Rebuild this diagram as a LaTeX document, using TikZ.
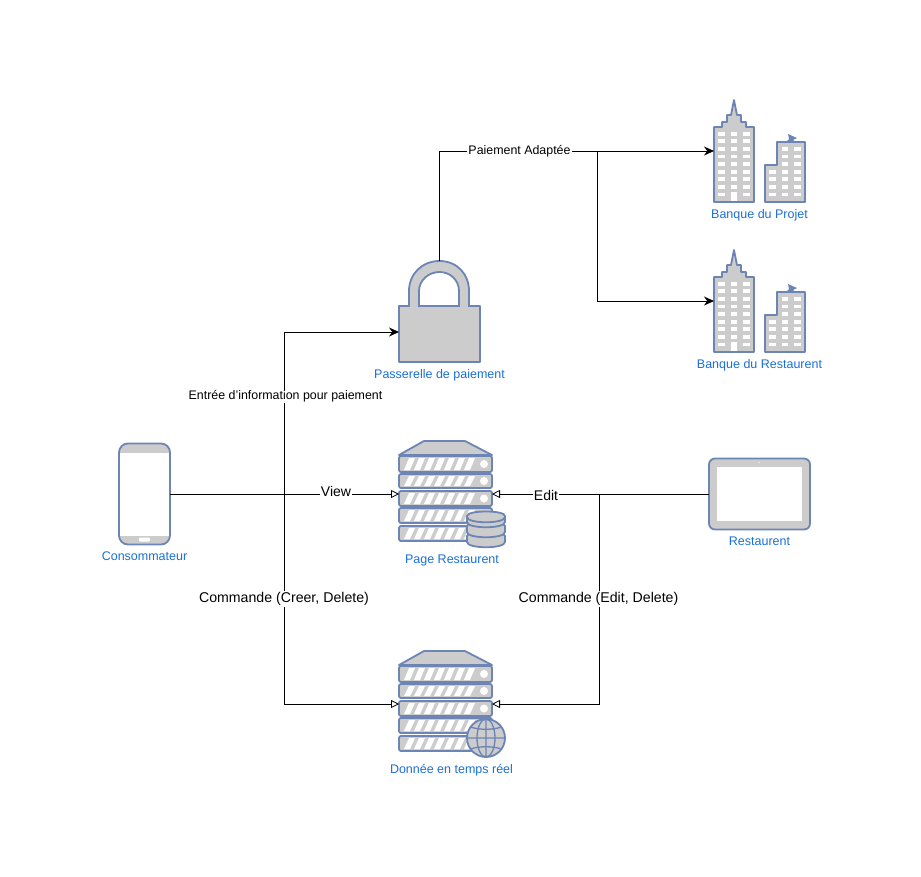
\documentclass[tikz,border=0pt]{standalone}
\usepackage{fontspec}
\setmainfont{Liberation Sans}
\usetikzlibrary{arrows.meta,positioning}
\definecolor{iconblue}{HTML}{6C85B5}
\definecolor{icongrey}{HTML}{CCCCCC}
\definecolor{textblue}{HTML}{1A6FD6}
\tikzset{
  main/.style = {inner sep=0pt, outer sep=0pt},
  iconline/.style = {draw=iconblue, fill=icongrey, line width=1.8pt, line join=round},
  caption/.style = {inner sep=0pt, outer sep=0pt, text=textblue, font=\fontsize{12.5}{12.5}\selectfont,
                    text height=9pt, text depth=3pt},
  wire/.style = {draw=black, line width=0.8pt},
  solidtip/.style = {-{Stealth[length=10pt,width=9pt]}},
  opentip/.style = {-{Triangle[open,fill=white,length=8pt,width=8pt]}},
  edgelabel/.style = {fill=white, inner sep=1pt, text=black},
  server/.pic = {
    \path[iconline] (0,14) -- (25,0) -- (66,0) -- (93,14) -- cycle;
    \foreach \y/\h in {15/16,33/14,50/15,67/15,85/15} {
      \path[iconline, rounded corners=2pt] (0,\y) rectangle ++(93,\h);
      \foreach \i in {0,...,6}
        \fill[white] ({5+10*\i},\y+\h-2) -- ({11+10*\i},\y+\h-2) -- ({16+10*\i},\y+2) -- ({10+10*\i},\y+2) -- cycle;
      \fill[white] (85,\y+\h/2) circle[radius=4];
    }
  },
  stack/.pic = {
    \foreach \y in {23,13,3}
      \path[iconline] (0,\y) -- (0,\y+6) .. controls (0,\y+13) and (38,\y+13) .. (38,\y+6) -- (38,\y)
        .. controls (38,\y-6) and (0,\y-6) .. (0,\y) -- cycle;
    \draw[draw=iconblue, line width=1.8pt] (0,4) .. controls (0,11) and (38,11) .. (38,4);
  },
  globe/.pic = {
    \path[iconline] (19,19) circle[radius=19];
    \draw[draw=iconblue, line width=1.3pt] (19,19) ellipse[x radius=9, y radius=19]
      (19,0) -- (19,38) (0,19) -- (38,19)
      (3.5,8) .. controls (12,11) and (26,11) .. (34.5,8)
      (3.5,30) .. controls (12,27) and (26,27) .. (34.5,30);
  },
  padlock/.pic = {
    \path[iconline] (10,46) -- (10,30) .. controls (10,13) and (23,0) .. (40.5,0)
      .. controls (58,0) and (70,13) .. (70,30) -- (70,46) -- (60,46) -- (60,30)
      .. controls (60,19) and (51,11) .. (40.5,11) .. controls (30,11) and (20,19) .. (20,30)
      -- (20,46) -- cycle;
    \path[iconline] (0,45) rectangle (81,101);
    \fill[icongrey] (11,44) rectangle (19,46.2);
    \fill[icongrey] (61,44) rectangle (69,46.2);
  },
  bank/.pic = {
    \path[iconline] (0,102) -- (0,27) -- (8,27) -- (8,22) -- (13,22) -- (13,15) -- (17,15) -- (20,0)
      -- (23,15) -- (27,15) -- (27,22) -- (32,22) -- (32,27) -- (40,27) -- (40,102) -- cycle;
    \foreach \k in {0,...,8}
      \foreach \x in {4.3,16.7,29.3}
        \fill[white] (\x,{31.7+7.6*\k}) rectangle ++(6.7,3.8);
    \fill[white] (16.7,92) rectangle (23.4,101);
    \path[iconline] (51,102) -- (51,65) -- (63,65) -- (63,42) -- (91,42) -- (91,102) -- cycle;
    \foreach \k in {2,...,8}
      \foreach \x in {67.7,80}
        \fill[white] (\x,{31.7+7.6*\k}) rectangle ++(6.7,3.8);
    \foreach \k in {5,...,8}
      \fill[white] (55,{31.7+7.6*\k}) rectangle ++(6.7,3.8);
    \fill[iconblue] (74,34) -- (83,38) -- (79,40) -- (81,42) -- (72,42) -- (75,39) -- cycle;
  },
  handset/.pic = {
    \path[fill=white, rounded corners=9pt] (0,0) rectangle (51,101);
    \begin{scope}
      \clip[rounded corners=9pt] (0,0) rectangle (51,101);
      \fill[icongrey] (0,0) rectangle (51,9);
      \fill[icongrey] (0,92) rectangle (51,101);
    \end{scope}
    \fill[white, rounded corners=1pt] (20,94) rectangle (31,98);
    \path[draw=iconblue, line width=1.8pt, rounded corners=9pt] (0,0) rectangle (51,101);
  },
  slate/.pic = {
    \path[iconline, rounded corners=6pt] (0,0) rectangle (101,71);
    \fill[white] (8,8) rectangle (93,62);
    \fill[white] (50,4) circle[radius=0.6];
  }
}
\begin{document}
\begin{tikzpicture}[x=1pt, y=-1pt, node distance = 7pt]
\useasboundingbox (0,0) rectangle (921,876);
\node[main, minimum width=51pt, minimum height=101pt] (phone) at (144.5,494) {};
\node[main, minimum width=81pt, minimum height=101pt] (lock) at (439.5,311.5) {};
\node[main, minimum width=93pt, minimum height=106pt] (page) at (445.5,494) {};
\node[main, minimum width=93pt, minimum height=106pt, below=104pt of page] (data) {};
\node[main, minimum width=101pt, minimum height=71pt] (tablet) at (759.5,494) {};
\node[main, minimum width=91pt, minimum height=102pt] (bank1) at (759.5,151) {};
\node[main, minimum width=91pt, minimum height=102pt, below=48pt of bank1] (bank2) {};

\pic at (phone.north west) {handset};
\pic at (lock.north west) {padlock};
\pic at (page.north west) {server};
\pic at ([shift={(68pt,-72pt)}]page.north west) {stack};
\pic at (data.north west) {server};
\pic at ([shift={(68pt,-68pt)}]data.north west) {globe};
\pic at (tablet.north west) {slate};
\pic at (bank1.north west) {bank};
\pic at (bank2.north west) {bank};

\node[caption, below= of phone] (phonetext) {Consommateur};
\node[caption, below= of lock] (locktext) {Passerelle de paiement};
\node[caption, below= of page, xshift=6.5pt] (pagetext) {Page Restaurent};
\node[caption, below= of data, xshift=6pt] (datatext) {Donnée en temps réel};
\node[caption, below= of tablet] (tablettext) {Restaurent};
\node[caption, below= of bank1] (bank1text) {Banque du Projet};
\node[caption, below= of bank2] (bank2text) {Banque du Restaurent};

\coordinate (leftbus) at (284,494);
\coordinate (rightbus) at (599.5,494);
\coordinate (bankbus) at (597,151);
\coordinate (lockin) at ([yshift=-20.5pt]lock.west);

\draw[wire, opentip] (phone.east) -- (page.west);
\draw[wire, solidtip] (leftbus) |- (lockin);
\draw[wire, opentip] (leftbus) |- (data.west);
\draw[wire, opentip] (tablet.west) -- (page.east);
\draw[wire, opentip] (rightbus) |- (data.east);
\draw[wire, solidtip] (lock.north) |- (bank1.west);
\draw[wire, solidtip] (bankbus) |- (bank2.west);

\node[edgelabel, font=\fontsize{14}{14}\selectfont] (viewtext) at (336,491.5) {View};
\node[edgelabel, font=\fontsize{12.4}{12.4}\selectfont] (paytext) at (285.5,396.5) {Entrée d'information pour paiement};
\node[edgelabel, font=\fontsize{14.15}{14.15}\selectfont] (createtext) at (284,599) {Commande (Creer, Delete)};
\node[edgelabel, font=\fontsize{14}{14}\selectfont] (edittext) at (546,495) {Edit};
\node[edgelabel, font=\fontsize{14.15}{14.15}\selectfont] (changetext) at (598.5,599) {Commande (Edit, Delete)};
\node[edgelabel, font=\fontsize{12.4}{12.4}\selectfont] (adapttext) at (519.5,151) {Paiement Adaptée};
\end{tikzpicture}
\end{document}
